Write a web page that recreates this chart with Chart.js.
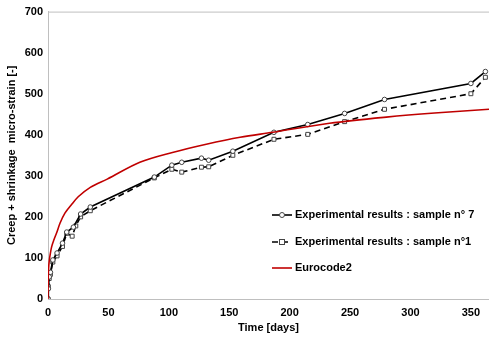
<!DOCTYPE html>
<html><head><meta charset="utf-8">
<script src="https://cdn.jsdelivr.net/npm/chart.js@4/dist/chart.umd.min.js"></script>
<style>html,body{margin:0;padding:0;background:#fff}#wrap{width:489px;height:339px}</style>
</head><body><div id="wrap"><canvas id="c" width="489" height="339"></canvas></div>
<script>
const xTicks = [0, 50, 100, 150, 200, 250, 300, 350];
const yTicks = [0, 100, 200, 300, 400, 500, 600, 700];

const s7Days = [0, 0.3, 1, 2, 4, 7.5, 12, 15.5, 21, 27, 35, 88, 102.5, 110.7, 127, 133, 153, 187, 215, 245.5, 278.5, 350, 362];
const s7Vals = [0, 25, 54, 65, 95, 112, 136, 163, 175, 207, 224, 297, 326, 333, 343, 338, 360, 406, 425, 452, 486, 525, 554];

const s1Days = [0, 0.3, 1, 2, 4, 7.5, 12, 15.5, 20, 23, 27, 35, 88, 102.5, 110.7, 127, 133, 153, 187, 215, 245.5, 278.5, 350, 362];
const s1Vals = [0, 30, 50, 60, 90, 105, 128, 160, 153, 178, 200, 215, 295, 316, 309, 321, 322, 350, 389, 401, 432, 462, 500, 540];

const ecDays = [0, 0.2, 0.5, 1, 2, 3, 5, 7, 10, 14, 20, 25, 35, 49, 76, 103, 131, 159, 186, 233, 280, 320, 365];
const ecVals = [0, 50, 75, 92, 112, 127, 145, 160, 185, 209, 232, 249, 272, 292, 333, 357, 377, 394, 406, 428, 443, 453, 462];

const labels = ["Experimental results : sample n° 7", "Experimental results : sample n°1", "Eurocode2"];

const pts = (d, v) => d.map((x, i) => ({x: x, y: v[i]}));
const FONT = "'Liberation Sans', Arial, sans-serif";

const legendPlugin = {
  id: 'customLegend',
  afterDraw(chart) {
    const ctx = chart.ctx;
    const a = chart.chartArea;
    ctx.save();
    ctx.strokeStyle = '#bfbfbf';
    ctx.lineWidth = 1;
    ctx.beginPath();
    ctx.moveTo(a.left, a.top + 0.5);
    ctx.lineTo(a.right, a.top + 0.5);
    ctx.stroke();
    const rows = [215, 242, 268];
    ctx.font = "bold 11px " + FONT;
    ctx.textBaseline = 'middle';
    ctx.fillStyle = '#000';
    chart.data.datasets.forEach((ds, i) => {
      const y = rows[i];
      ctx.strokeStyle = ds.borderColor;
      ctx.lineWidth = ds.borderWidth;
      ctx.setLineDash(ds.borderDash || []);
      ctx.beginPath(); ctx.moveTo(272, y); ctx.lineTo(292, y); ctx.stroke();
      ctx.setLineDash([]);
      if (ds.pointRadius > 0) {
        ctx.fillStyle = '#fff';
        ctx.strokeStyle = ds.pointBorderColor;
        ctx.lineWidth = 1;
        if (ds.pointStyle === 'rect') {
          ctx.fillRect(279.5, y - 2.5, 5, 5); ctx.strokeRect(279.5, y - 2.5, 5, 5);
        } else {
          ctx.beginPath(); ctx.arc(282, y, 2.5, 0, Math.PI * 2); ctx.fill(); ctx.stroke();
        }
      }
      ctx.fillStyle = '#000';
      ctx.fillText(ds.label, 295, y);
    });
    ctx.restore();
  }
};

new Chart(document.getElementById('c'), {
  type: 'scatter',
  data: {
    datasets: [
      {label: labels[0], data: pts(s7Days, s7Vals), showLine: true, borderColor: '#000', borderWidth: 1.6,
       pointStyle: 'circle', pointRadius: 2.3, pointBackgroundColor: '#fff', pointBorderColor: '#444', pointBorderWidth: 1, order: 2},
      {label: labels[1], data: pts(s1Days, s1Vals), showLine: true, borderColor: '#000', borderWidth: 1.6, borderDash: [6, 4],
       pointStyle: 'rect', pointRadius: 2.8, pointBackgroundColor: '#fff', pointBorderColor: '#444', pointBorderWidth: 1, order: 3},
      {label: labels[2], data: pts(ecDays, ecVals), showLine: true, borderColor: '#c00000', borderWidth: 1.6,
       pointRadius: 0, tension: 0.4, cubicInterpolationMode: 'monotone', order: 1}
    ]
  },
  options: {
    responsive: false, animation: false, devicePixelRatio: 1,
    layout: {autoPadding: false, padding: {top: 11, right: 0, bottom: 0, left: 0}},
    plugins: {legend: {display: false}, tooltip: {enabled: false}},
    scales: {
      x: {
        type: 'linear', min: 0, max: 365,
        afterBuildTicks: s => { s.ticks = xTicks.map(v => ({value: v})); },
        afterFit: s => { s.height = 40; s.paddingRight = 0; s.paddingLeft = 0; },
        grid: {display: false, drawTicks: false},
        border: {display: true, color: '#bfbfbf', width: 1},
        ticks: {font: {family: FONT, size: 11, weight: 'bold'}, color: '#000', padding: 7, maxRotation: 0},
        title: {display: true, text: 'Time [days]', font: {family: FONT, size: 11, weight: 'bold'}, color: '#000', padding: {top: 0, bottom: 4}}
      },
      y: {
        min: 0, max: 700,
        afterBuildTicks: s => { s.ticks = yTicks.map(v => ({value: v})); },
        afterFit: s => { s.width = 48; },
        grid: {display: false, drawTicks: false},
        border: {display: true, color: '#bfbfbf', width: 1},
        ticks: {font: {family: FONT, size: 11, weight: 'bold'}, color: '#000', padding: 5},
        title: {display: true, text: 'Creep + shrinkage  micro-strain [-]', font: {family: FONT, size: 11, weight: 'bold'}, color: '#000', padding: {top: 5, bottom: 0}}
      }
    }
  },
  plugins: [legendPlugin]
});
</script>
</body></html>
